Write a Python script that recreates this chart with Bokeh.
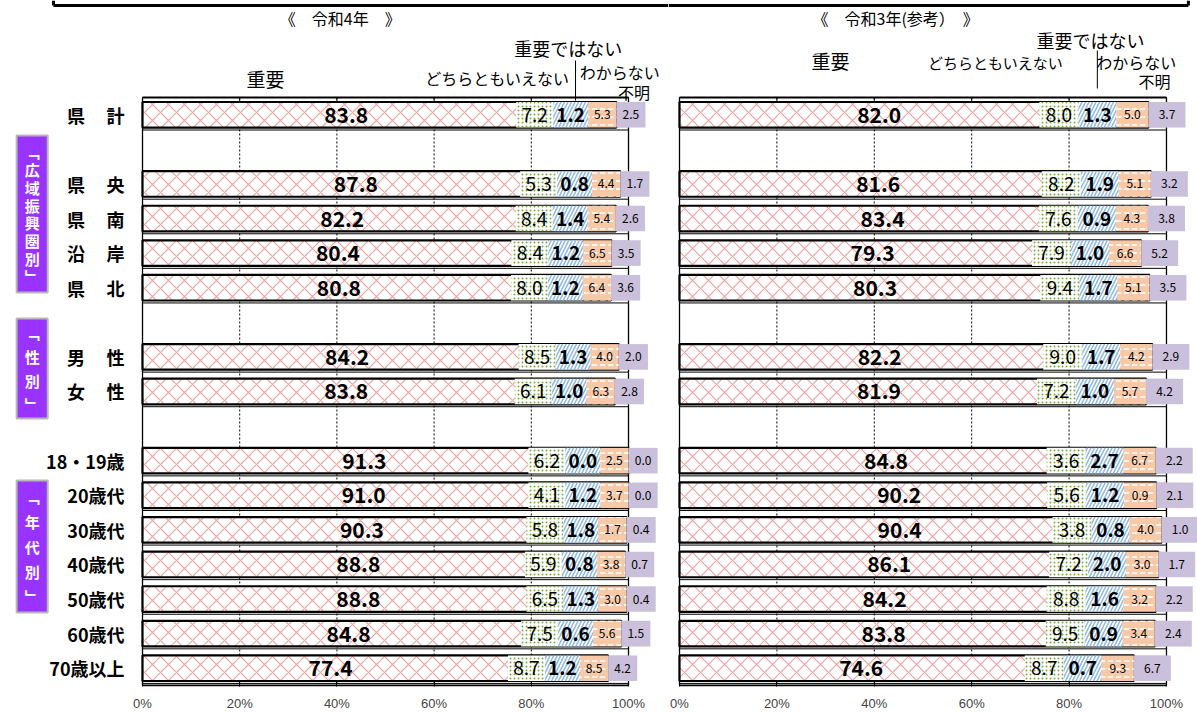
from bokeh.plotting import figure
from bokeh.models import Range1d, FixedTicker
from bokeh.layouts import row
from bokeh.embed import file_html
from bokeh.resources import INLINE
from bokeh.core.properties import value

# ---------------- data ----------------
categories = ["県　計", "", "県　央", "県　南", "沿　岸", "県　北", "",
              "男　性", "女　性", "",
              "18・19歳", "20歳代", "30歳代", "40歳代", "50歳代", "60歳代", "70歳以上"]
series_names = ["重要", "どちらともいえない", "重要ではない", "わからない", "不明"]

r4_important = [83.8, None, 87.8, 82.2, 80.4, 80.8, None, 84.2, 83.8, None, 91.3, 91.0, 90.3, 88.8, 88.8, 84.8, 77.4]
r4_neutral   = [7.2, None, 5.3, 8.4, 8.4, 8.0, None, 8.5, 6.1, None, 6.2, 4.1, 5.8, 5.9, 6.5, 7.5, 8.7]
r4_not       = [1.2, None, 0.8, 1.4, 1.2, 1.2, None, 1.3, 1.0, None, 0.0, 1.2, 1.8, 0.8, 1.3, 0.6, 1.2]
r4_dontknow  = [5.3, None, 4.4, 5.4, 6.5, 6.4, None, 4.0, 6.3, None, 2.5, 3.7, 1.7, 3.8, 3.0, 5.6, 8.5]
r4_unknown   = [2.5, None, 1.7, 2.6, 3.5, 3.6, None, 2.0, 2.8, None, 0.0, 0.0, 0.4, 0.7, 0.4, 1.5, 4.2]

r3_important = [82.0, None, 81.6, 83.4, 79.3, 80.3, None, 82.2, 81.9, None, 84.8, 90.2, 90.4, 86.1, 84.2, 83.8, 74.6]
r3_neutral   = [8.0, None, 8.2, 7.6, 7.9, 9.4, None, 9.0, 7.2, None, 3.6, 5.6, 3.8, 7.2, 8.8, 9.5, 8.7]
r3_not       = [1.3, None, 1.9, 0.9, 1.0, 1.7, None, 1.7, 1.0, None, 2.7, 1.2, 0.8, 2.0, 1.6, 0.9, 0.7]
r3_dontknow  = [5.0, None, 5.1, 4.3, 6.6, 5.1, None, 4.2, 5.7, None, 6.7, 0.9, 4.0, 3.0, 3.2, 3.4, 9.3]
r3_unknown   = [3.7, None, 3.2, 3.8, 5.2, 3.5, None, 2.9, 4.2, None, 2.2, 2.1, 1.0, 1.7, 2.2, 2.4, 6.7]

x_ticks = [0, 20, 40, 60, 80, 100]
tick_labels = ["0%", "20%", "40%", "60%", "80%", "100%"]

group_labels = ["「広域振興圏別」", "「性別」", "「年代別」"]
group_spans = [(0.60, 5.14), (5.89, 8.78), (10.57, 14.39)]   # in row units
group_line_h = [0.85, 1.15, 1.2]

# ---------------- styles ----------------
JP = value("Noto Sans CJK JP")
BAR_H = 0.74
Y_TOP, Y_BOT = -3.304, 16.529
SEG_STYLES = [
    dict(fill_color="white", hatch_pattern="diagonal_cross", hatch_color="#f5a0a0", hatch_scale=16, hatch_weight=1.2),
    dict(fill_color="white", hatch_pattern="dot", hatch_color="#78ac3c", hatch_scale=4, hatch_weight=1.6),
    dict(fill_color="white", hatch_pattern="right_diagonal_line", hatch_color="#8db8e8", hatch_scale=7, hatch_weight=1.5),
    dict(fill_color="#f8c9a6", hatch_pattern="horizontal_dash", hatch_color="white", hatch_scale=8, hatch_weight=1.6),
    dict(fill_color="#cbc0dc"),
]
LABEL_FMT = [("21px", "bold"), ("19px", "normal"), ("19px", "bold"), ("12px", "normal"), ("12px", "normal")]


def make_fig(width, xr):
    p = figure(width=width, height=713, x_range=Range1d(*xr), y_range=Range1d(Y_BOT, Y_TOP),
               output_backend="svg", toolbar_location=None, y_axis_location=None,
               min_border_left=0, min_border_right=0, min_border_top=0, min_border_bottom=27)
    p.outline_line_color = None
    p.grid.visible = False
    ax = p.xaxis[0]
    ax.ticker = FixedTicker(ticks=x_ticks)
    ax.major_label_overrides = dict(zip(x_ticks, tick_labels))
    ax.axis_line_color = None
    ax.major_tick_in = 5
    ax.major_tick_out = 0
    ax.minor_tick_line_color = None
    ax.major_label_text_font = "Liberation Sans"
    ax.major_label_text_font_size = "13px"
    ax.major_label_standoff = 9
    return p


def draw_panel(p, series, box_w):
    n = len(categories)
    idx = [i for i in range(n) if series[0][i] is not None]
    top, bot = -0.5, n - 0.5
    inner = [t for t in x_ticks if x_ticks[0] < t < x_ticks[-1]]
    edges = [x_ticks[0], x_ticks[-1]]
    # grid
    p.segment(x0=inner, x1=inner, y0=top, y1=bot, line_color="black", line_dash="2 2", line_width=1)
    p.segment(x0=edges, x1=edges, y0=top, y1=bot, line_color="black", line_width=1.3)
    p.segment(x0=edges[0], x1=edges[1], y0=[top, bot], y1=[top, bot], line_color="black", line_width=2)
    p.segment(x0=x_ticks, x1=x_ticks, y0=top, y1=top + 0.15, line_color="black", line_width=1)
    # thin row frame lines
    ys = [i + 0.44 for i in idx]
    p.segment(x0=edges[0], x1=edges[1], y0=ys, y1=ys, line_color="black", line_width=1)
    # proportional stacked segments
    lefts = [0.0] * len(idx)
    for k in range(5):
        vals = [series[k][i] for i in idx]
        rights = [l + v for l, v in zip(lefts, vals)]
        p.hbar(y=idx, left=lefts, right=rights, height=BAR_H, line_color=None, **SEG_STYLES[k])
        lefts = rights
    cum4 = [sum(series[k][i] for k in range(4)) for i in idx]
    p.hbar(y=idx, left=0, right=cum4, height=BAR_H, fill_color=None, line_color="black", line_width=2.2)
    # patterned label boxes (as in the original chart)
    box_l = {4: cum4}
    box_r = {4: [c + box_w[3] for c in cum4]}
    right_edge = cum4
    for k in (3, 2, 1):
        box_r[k] = right_edge
        box_l[k] = [r - box_w[k - 1] for r in right_edge]
        right_edge = box_l[k]
    for k in (1, 2, 3, 4):
        p.hbar(y=idx, left=box_l[k], right=box_r[k], height=BAR_H, line_color=None, **SEG_STYLES[k])
    # value labels
    for k in range(5):
        vals = [series[k][i] for i in idx]
        if k == 0:
            xs = [v / 2 for v in vals]
        else:
            xs = [(a + b) / 2 for a, b in zip(box_l[k], box_r[k])]
        size, style = LABEL_FMT[k]
        p.text(x=xs, y=idx, text=[f"{v:.1f}" for v in vals], text_align="center",
               text_baseline="middle", text_font=JP, text_font_size=size,
               text_font_style=style, text_color="black")


def header(p, items, vline):
    for txt, x, y, size, align in items:
        p.text(x=[x], y=[y], text=[txt], text_align=align, text_baseline="middle",
               text_font=JP, text_font_size=size, text_color="black")
    p.segment(x0=vline[0], x1=vline[0], y0=vline[1], y1=vline[2], line_color="black", line_width=1)


# ---------------- left panel (令和4年) ----------------
left = make_fig(668, (-29.22, 108.23))
draw_panel(left, [r4_important, r4_neutral, r4_not, r4_dontknow, r4_unknown], [7.6, 7.2, 5.8, 6.0])
header(left, [
    ("《　令和4年　》", 40.7, -2.784, "16px", "center"),
    (series_names[0], 25.3, -1.05, "19px", "center"),
    (series_names[1], 73.0, -1.05, "16px", "center"),
    (series_names[2], 87.6, -1.917, "18px", "center"),
    (series_names[3], 98.2, -1.223, "16px", "center"),
    (series_names[4], 104.4, -0.673, "16px", "right"),
], (89.1, -1.57, -0.413))

# outer box (bottom edge of a frame above the chart)
left.segment(x0=-18.31, x1=108.23, y0=-3.16, y1=-3.16, line_color="black", line_width=3)
left.segment(x0=-18.31, x1=-18.31, y0=Y_TOP, y1=-3.16, line_color="black", line_width=3)

# row labels
lab_idx = [i for i, c in enumerate(categories) if c]
left.text(x=-3.7, y=lab_idx, text=[categories[i].replace("　", "\u3000\u2009") for i in lab_idx],
          text_align="right", text_baseline="middle", text_font=JP, text_font_size="18px",
          text_font_style="bold", text_color="black")

# group boxes
vert = {"「": "﹁", "」": "﹂"}
left.quad(left=-25.9, right=-19.5, top=[s[0] for s in group_spans], bottom=[s[1] for s in group_spans],
          fill_color="#9933ff", line_color="#b8b8b8", line_width=2)
for g, (a, b), lh in zip(group_labels, group_spans, group_line_h):
    left.text(x=[-22.7], y=[(a + b) / 2], text=["\n".join(vert.get(ch, ch) for ch in g)],
              text_align="center", text_baseline="middle", text_font=JP, text_font_size="15px",
              text_font_style="bold", text_color="white", text_line_height=lh)

# ---------------- right panel (令和3年) ----------------
right = make_fig(529, (-2.26, 106.37))
draw_panel(right, [r3_important, r3_neutral, r3_not, r3_dontknow, r3_unknown], [8.0, 7.8, 6.6, 7.6])
header(right, [
    ("《　令和3年(参考）　》", 44.4, -2.784, "16px", "center"),
    (series_names[0], 31.0, -1.57, "19px", "center"),
    (series_names[1], 64.9, -1.512, "15px", "center"),
    (series_names[2], 84.4, -2.148, "18px", "center"),
    (series_names[3], 93.8, -1.512, "16px", "center"),
    (series_names[4], 100.8, -0.991, "16px", "right"),
], (85.8, -1.859, -0.76))
right.segment(x0=-2.26, x1=104.5, y0=-3.16, y1=-3.16, line_color="black", line_width=3)
right.segment(x0=104.5, x1=104.5, y0=Y_TOP, y1=-3.16, line_color="black", line_width=3)

layout = row(left, right)
open("out.html", "w").write(file_html(layout, INLINE))
